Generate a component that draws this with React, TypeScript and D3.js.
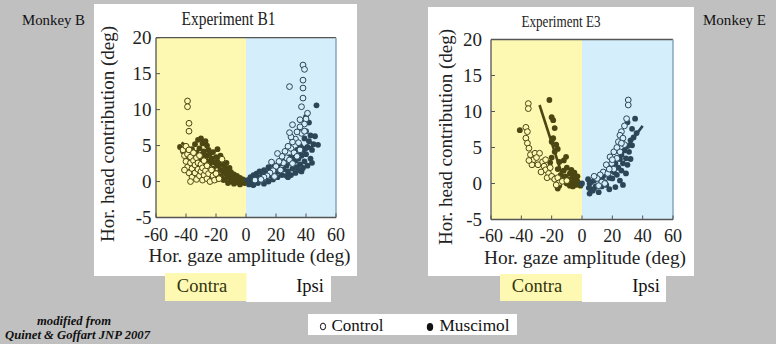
import React from "react";
import * as d3 from "d3";

const X_TICKS = [-60, -40, -20, 0, 20, 40, 60];
const Y_TICKS = [-5, 0, 5, 10, 15, 20];
const X_TICK_LABELS = ["-60", "-40", "-20", "0", "20", "40", "60"];
const Y_TICK_LABELS = ["-5", "0", "5", "10", "15", "20"];

type P = [number, number];

// Experiment B1 (Monkey B)
const B1_CONTRA_MUSCIMOL: P[] = [
  [-44, 4.8], [-42, 4.2], [-40, 3.5], [-38, 3.0], [-36, 4.5], [-35, 3.8], [-34, 5.2], [-33, 4.0], [-32, 5.8], [-31, 4.6],
  [-30, 6.0], [-30, 3.2], [-29, 5.3], [-28, 4.2], [-27, 2.8], [-26, 5.0], [-26, 3.6], [-25, 4.4], [-24, 2.5], [-24, 3.9],
  [-23, 3.2], [-22, 4.1], [-22, 1.8], [-21, 2.7], [-20, 3.4], [-20, 1.2], [-19, 2.2], [-18, 2.9], [-18, 0.8], [-17, 1.6],
  [-16, 2.4], [-16, 0.5], [-15, 1.2], [-14, 2.0], [-14, 0.3], [-13, 1.0], [-12, 1.6], [-12, -0.2], [-11, 0.6], [-10, 1.3],
  [-10, 0.0], [-9, 0.7], [-8, 1.0], [-8, -0.3], [-7, 0.4], [-6, 0.8], [-6, -0.1], [-5, 0.3], [-4, 0.5], [-4, -0.4],
  [-3, 0.1], [-2, 0.3], [-1, -0.2], [-28, 1.8], [-26, 1.0], [-22, 0.6], [-30, 2.2], [-34, 1.5], [-36, 2.6], [-32, 2.9],
  [-19, 4.5], [-27, 5.6], [-15, 0.2], [-20, 0.3], [-24, 1.2], [-29, 3.8], [-17, 3.6], [-13, 2.6], [-11, 1.9], [-9, 0.1],
];
const B1_CONTRA_CONTROL: P[] = [
  [-39, 11.2], [-39, 10.4], [-38, 8.1], [-38, 7.0], [-42, 4.4], [-41, 3.6], [-40, 2.8], [-40, 4.9], [-39, 2.0], [-39, 3.8],
  [-38, 1.2], [-38, 4.4], [-37, 2.6], [-37, 3.4], [-36, 0.6], [-36, 1.8], [-35, 2.9], [-35, 4.0], [-34, 1.2], [-34, 2.3],
  [-33, 0.3], [-33, 3.3], [-32, 1.7], [-32, 2.6], [-31, 0.8], [-31, 3.6], [-30, 1.4], [-30, 2.4], [-29, 0.2], [-29, 1.9],
  [-28, 2.9], [-28, 0.9], [-27, 1.5], [-26, 0.4], [-26, 2.2], [-25, 1.1], [-24, 0.0], [-23, 1.6], [-22, 0.8], [-21, 0.2],
  [-20, 1.1], [-18, 0.4], [-16, 3.1], [-41, 1.6], [-37, 0.0],
];
const B1_IPSI_MUSCIMOL: P[] = [
  [1, 0.2], [2, -0.4], [3, 0.6], [4, 0.0], [5, 0.9], [5, -0.5], [6, 0.3], [7, 1.1], [8, -0.2], [8, 0.6],
  [9, 1.4], [10, 0.2], [11, 0.9], [12, -0.3], [12, 1.6], [13, 0.5], [14, 1.2], [15, 2.0], [15, 0.0], [16, 0.8],
  [17, 1.6], [18, 2.4], [18, 0.3], [19, 1.1], [20, 1.9], [21, 0.6], [22, 1.4], [23, 2.6], [24, 0.9], [25, 1.7],
  [26, 3.1], [27, 0.8], [27, 2.2], [28, 1.4], [29, 3.4], [30, 0.9], [30, 2.6], [31, 1.8], [32, 3.8], [33, 1.2],
  [33, 2.9], [34, 4.4], [35, 1.6], [35, 3.2], [36, 2.4], [36, 5.0], [37, 3.6], [38, 1.9], [38, 4.6], [39, 6.0],
  [39, 2.8], [40, 3.8], [40, 7.0], [41, 4.8], [41, 2.2], [42, 5.6], [43, 3.2], [43, 6.4], [44, 2.6], [44, 4.4],
  [45, 5.2], [46, 6.3], [48, 5.1], [47, 10.6], [42, 8.2], [40, 9.0], [34, 2.0], [31, 3.0], [28, 0.6], [37, 1.4],
];
const B1_IPSI_CONTROL: P[] = [
  [38, 16.2], [39, 15.6], [38, 14.1], [29, 13.2], [38, 13.0], [38, 11.6], [37, 10.4], [41, 9.5], [40, 8.7], [39, 8.0],
  [36, 7.6], [37, 6.7], [34, 6.9], [33, 5.9], [35, 5.4], [31, 5.5], [30, 4.6], [28, 4.9], [32, 4.0], [26, 4.2],
  [27, 3.3], [24, 3.5], [25, 2.6], [22, 2.8], [20, 2.1], [23, 1.6], [18, 1.5], [16, 1.2], [19, 0.7], [14, 0.8],
  [12, 0.6], [10, 0.3], [6, 0.2], [29, 3.0], [31, 2.5], [34, 3.5], [36, 4.4], [21, 3.9], [17, 2.7], [39, 7.0],
  [30, 6.2], [31, 7.9], [36, 8.6], [29, 6.8],
];
const B1_CONTRA_FIT: P[] = [[-43, 5.4], [0, -0.5]];
const B1_IPSI_FIT: P[] = [[2, -0.3], [45, 5.0]];

// Experiment E3 (Monkey E)
const E3_CONTRA_MUSCIMOL: P[] = [
  [-21.5, 11.6], [-41, 7.4], [-19, 8.8], [-18, 7.7], [-19, 6.3], [-17, 5.4], [-18, 4.4], [-20, 3.6], [-10.5, 3.7], [-15, 3.0],
  [-16, 2.0], [-12, 1.8], [-11, 1.0], [-10, 2.2], [-9, 0.6], [-8, 1.4], [-7, 0.2], [-7, 1.9], [-6, 0.9], [-5, 0.4],
  [-5, 1.5], [-4, -0.2], [-4, 0.8], [-3, 0.3], [-2, 0.0], [-13, 0.4], [-15, -0.3], [-16, -0.7], [-12, 3.2], [-16, 4.8],
  [-21, 2.9], [-19, 0.8], [-14, 1.2], [-8, -0.3], [-6, -0.4], [-10, 0.0], [-1, -0.3], [-3, 1.0], [-20, 9.2], [-20, 5.8],
];
const E3_CONTRA_CONTROL: P[] = [
  [-35.4, 11.1], [-35.4, 10.4], [-37, 7.8], [-36, 7.2], [-37, 6.3], [-36, 5.6], [-35, 4.9], [-34, 4.0], [-31, 4.2], [-28, 4.2],
  [-32, 3.3], [-33, 2.6], [-29, 2.6], [-30, 3.6], [-26, 3.0], [-25, 2.4], [-24, 1.9], [-27, 1.6], [-22, 1.4], [-23, 0.8],
  [-20, 1.0], [-18, 0.6], [-16, 0.8], [-15, 0.1], [-17, -0.2], [-13, 0.3], [-10, 0.4], [-24, 3.3], [-21, 2.2], [-35, 3.2],
];
const E3_IPSI_MUSCIMOL: P[] = [
  [0, 0], [4, 0.6], [4.5, -0.6], [5, -1.4], [6, 0.2], [7, -1.0], [8, 0.4], [9, -0.4], [11, -1.2], [12, 0.6],
  [13, -0.4], [14, 1.2], [15, 0.2], [16, -0.2], [17, 1.6], [18, 0.8], [19, 2.2], [20, 0.7], [21, 1.6], [22, 2.8],
  [23, 1.2], [24, 2.2], [25, 3.4], [26, 1.8], [26, 4.0], [27, 2.8], [27, -0.2], [28, 4.6], [29, 3.5], [30, 5.2],
  [30, 2.6], [31, 4.4], [32, 6.0], [32, 3.4], [33, 5.3], [33, 7.6], [34, 6.4], [35, 9.0], [30, 8.5], [36, 7.0],
  [22, -0.5], [25, 0.4], [18, -0.8], [29, 1.4], [5, 0.0], [6, -0.8],
];
const E3_IPSI_CONTROL: P[] = [
  [30.5, 11.6], [30.5, 10.9], [29.4, 9.0], [28, 8.0], [26, 7.2], [25, 6.7], [27, 6.3], [24, 5.8], [28, 5.4], [21, 4.4],
  [25, 4.4], [18.5, 3.7], [23, 3.5], [19.6, 2.8], [16, 2.6], [21, 2.0], [14, 1.6], [17, 1.4], [12, 1.2], [13, 0.2],
  [10, 0.7], [15, 0.0], [23, 5.0], [20, 3.3], [26, 5.6], [11, -0.3], [8, 1.0], [18, 2.0],
];
const E3_CONTRA_FIT: P[] = [[-28, 10.9], [-11, -0.2]];
const E3_IPSI_FIT: P[] = [[8, -1.0], [40, 8.0]];

const SERIF = '"Liberation Serif", "Times New Roman", Times, "DejaVu Serif", serif';
const BG = "#c0c0c0";
const YELLOW = "#fdf9b3";
const BLUE = "#d4eefb";
const OLIVE = "#4c4712";
const NAVY = "#2c4658";

type Box = { x: number; y: number; w: number; h: number };
type Panel = {
  title: string;
  titleSize: number;
  titleLen: number;
  monkey: string;
  monkeyX: number;
  white: Box;
  plot: { x0: number; x1: number; yTop: number; yBot: number };
  titleX: number;
  titleY: number;
  ylabX: number;
  ylabY: number;
  ytickX: number;
  xtickY: number;
  xlabX: number;
  xlabY: number;
  contraBox: Box;
  ipsiBox: Box;
  contraTextX: number;
  ipsiTextX: number;
  sideTextY: number;
  cm: P[];
  cc: P[];
  im: P[];
  ic: P[];
  cfit: P[];
  ifit: P[];
};

const PANELS: Panel[] = [
  {
    title: "Experiment B1",
    titleSize: 18,
    titleLen: 94,
    monkey: "Monkey B",
    monkeyX: 22,
    white: { x: 94, y: 4, w: 263, h: 272 },
    plot: { x0: 156, x1: 336, yTop: 37.7, yBot: 217.5 },
    titleX: 228.5,
    titleY: 25,
    ylabX: 114,
    ylabY: 134,
    ytickX: 151.5,
    xtickY: 241,
    xlabX: 249.5,
    xlabY: 262,
    contraBox: { x: 165, y: 273, w: 81.5, h: 28 },
    ipsiBox: { x: 246, y: 276, w: 85, h: 26 },
    contraTextX: 202,
    ipsiTextX: 310,
    sideTextY: 292,
    cm: B1_CONTRA_MUSCIMOL,
    cc: B1_CONTRA_CONTROL,
    im: B1_IPSI_MUSCIMOL,
    ic: B1_IPSI_CONTROL,
    cfit: B1_CONTRA_FIT,
    ifit: B1_IPSI_FIT,
  },
  {
    title: "Experiment E3",
    titleSize: 17,
    titleLen: 79,
    monkey: "Monkey E",
    monkeyX: 703,
    white: { x: 428, y: 7, w: 266, h: 269 },
    plot: { x0: 491, x1: 673, yTop: 39.5, yBot: 219.5 },
    titleX: 561,
    titleY: 27,
    ylabX: 452,
    ylabY: 137,
    ytickX: 482,
    xtickY: 242,
    xlabX: 585,
    xlabY: 264,
    contraBox: { x: 500, y: 274, w: 82, h: 27 },
    ipsiBox: { x: 582, y: 276, w: 84, h: 26 },
    contraTextX: 537,
    ipsiTextX: 646,
    sideTextY: 292,
    cm: E3_CONTRA_MUSCIMOL,
    cc: E3_CONTRA_CONTROL,
    im: E3_IPSI_MUSCIMOL,
    ic: E3_IPSI_CONTROL,
    cfit: E3_CONTRA_FIT,
    ifit: E3_IPSI_FIT,
  },
];

const serif = (size: number, extra: React.CSSProperties = {}): React.CSSProperties => ({
  fontFamily: SERIF,
  fontSize: size,
  ...extra,
});

function PanelView({ p }: { p: Panel }) {
  const x = d3.scaleLinear().domain([-60, 60]).range([p.plot.x0, p.plot.x1]);
  const y = d3.scaleLinear().domain([-5, 20]).range([p.plot.yBot, p.plot.yTop]);
  const line = d3.line<P>().x((d) => x(d[0])).y((d) => y(d[1]));
  const R = 2.9;
  return (
    <g>
      <rect x={p.white.x} y={p.white.y} width={p.white.w} height={p.white.h} fill="#fff" />
      <text x={p.monkeyX} y={25} style={serif(14.5)} fill="#111" textLength={63} lengthAdjust="spacingAndGlyphs">
        {p.monkey}
      </text>
      <text
        x={p.titleX}
        y={p.titleY}
        style={serif(p.titleSize)}
        textAnchor="middle"
        fill="#222"
        textLength={p.titleLen}
        lengthAdjust="spacingAndGlyphs"
      >
        {p.title}
      </text>
      <rect x={x(-60)} y={y(20)} width={x(0) - x(-60)} height={y(-5) - y(20)} fill={YELLOW} />
      <rect x={x(0)} y={y(20)} width={x(60) - x(0)} height={y(-5) - y(20)} fill={BLUE} />
      {p.cm.map((d, i) => (
        <circle key={"cm" + i} cx={x(d[0])} cy={y(d[1])} r={R} fill={OLIVE} />
      ))}
      {p.im.map((d, i) => (
        <circle key={"im" + i} cx={x(d[0])} cy={y(d[1])} r={R} fill={NAVY} />
      ))}
      <path d={line(p.cfit) || ""} stroke={OLIVE} strokeWidth={2.6} fill="none" />
      <path d={line(p.ifit) || ""} stroke={NAVY} strokeWidth={2.6} fill="none" />
      {p.cc.map((d, i) => (
        <circle key={"cc" + i} cx={x(d[0])} cy={y(d[1])} r={R} fill={YELLOW} stroke={OLIVE} strokeWidth={1} />
      ))}
      {p.ic.map((d, i) => (
        <circle key={"ic" + i} cx={x(d[0])} cy={y(d[1])} r={R} fill={BLUE} stroke={NAVY} strokeWidth={1} />
      ))}
      <line x1={x(-60)} x2={x(60)} y1={y(20)} y2={y(20)} stroke="#555" strokeWidth={1.3} />
      <line x1={x(60)} x2={x(60)} y1={y(20)} y2={y(-5)} stroke="#86a6bd" strokeWidth={1.5} />
      <line x1={x(-60)} x2={x(60)} y1={y(-5)} y2={y(-5)} stroke="#555" strokeWidth={1.3} />
      <line x1={x(-60)} x2={x(-60)} y1={y(20)} y2={y(-5)} stroke="#555" strokeWidth={1.3} />
      {X_TICKS.map((t, i) => (
        <g key={"xt" + i}>
          <line x1={x(t)} x2={x(t)} y1={y(-5)} y2={y(-5) - 4} stroke="#555" strokeWidth={1} />
          <text x={x(t)} y={p.xtickY} style={serif(18)} textAnchor="middle" fill="#222">
            {X_TICK_LABELS[i]}
          </text>
        </g>
      ))}
      {Y_TICKS.map((t, i) => (
        <g key={"yt" + i}>
          <line x1={x(-60)} x2={x(-60) + 4} y1={y(t)} y2={y(t)} stroke="#555" strokeWidth={1} />
          <text x={p.ytickX} y={y(t) + 6.5} style={serif(19)} textAnchor="end" fill="#222">
            {Y_TICK_LABELS[i]}
          </text>
        </g>
      ))}
      <text
        x={p.xlabX}
        y={p.xlabY}
        style={serif(18.5)}
        textAnchor="middle"
        fill="#222"
        textLength={202}
        lengthAdjust="spacingAndGlyphs"
      >
        Hor. gaze amplitude (deg)
      </text>
      <text
        transform={`translate(${p.ylabX},${p.ylabY}) rotate(-90)`}
        style={serif(18.5)}
        textAnchor="middle"
        fill="#222"
        textLength={216}
        lengthAdjust="spacingAndGlyphs"
      >
        Hor. head contribution (deg)
      </text>
      <rect x={p.ipsiBox.x} y={p.ipsiBox.y} width={p.ipsiBox.w} height={p.ipsiBox.h} fill="#fff" />
      <rect x={p.contraBox.x} y={p.contraBox.y} width={p.contraBox.w} height={p.contraBox.h} fill={YELLOW} />
      <text x={p.contraTextX} y={p.sideTextY} style={serif(18.5)} textAnchor="middle" fill="#33330f">
        Contra
      </text>
      <text x={p.ipsiTextX} y={p.sideTextY} style={serif(18.5)} textAnchor="middle" fill="#111">
        Ipsi
      </text>
    </g>
  );
}

export default function App() {
  return (
    <svg width={776} height={344} style={{ position: "absolute", left: 0, top: 0 }}>
      <rect x={0} y={0} width={776} height={344} fill={BG} />
      {PANELS.map((p, i) => (
        <PanelView key={i} p={p} />
      ))}
      <rect x={308} y={314} width={209} height={21} fill="#fff" />
      <ellipse cx={323} cy={326.5} rx={2.6} ry={3.4} fill="#fff" stroke="#111" strokeWidth={1} />
      <text x={331.5} y={331} style={serif(17)} fill="#111" textLength={52} lengthAdjust="spacingAndGlyphs">
        Control
      </text>
      <ellipse cx={430} cy={327} rx={3.2} ry={4} fill="#111" />
      <text x={439.5} y={331} style={serif(17)} fill="#111" textLength={70} lengthAdjust="spacingAndGlyphs">
        Muscimol
      </text>
      <text
        x={74}
        y={325}
        style={serif(12, { fontWeight: "bold", fontStyle: "italic" })}
        textAnchor="middle"
        fill="#111"
        textLength={74}
        lengthAdjust="spacingAndGlyphs"
      >
        modified from
      </text>
      <text
        x={5}
        y={339}
        style={serif(12, { fontWeight: "bold", fontStyle: "italic" })}
        fill="#111"
        textLength={145}
        lengthAdjust="spacingAndGlyphs"
      >
        Quinet &amp; Goffart JNP 2007
      </text>
    </svg>
  );
}
